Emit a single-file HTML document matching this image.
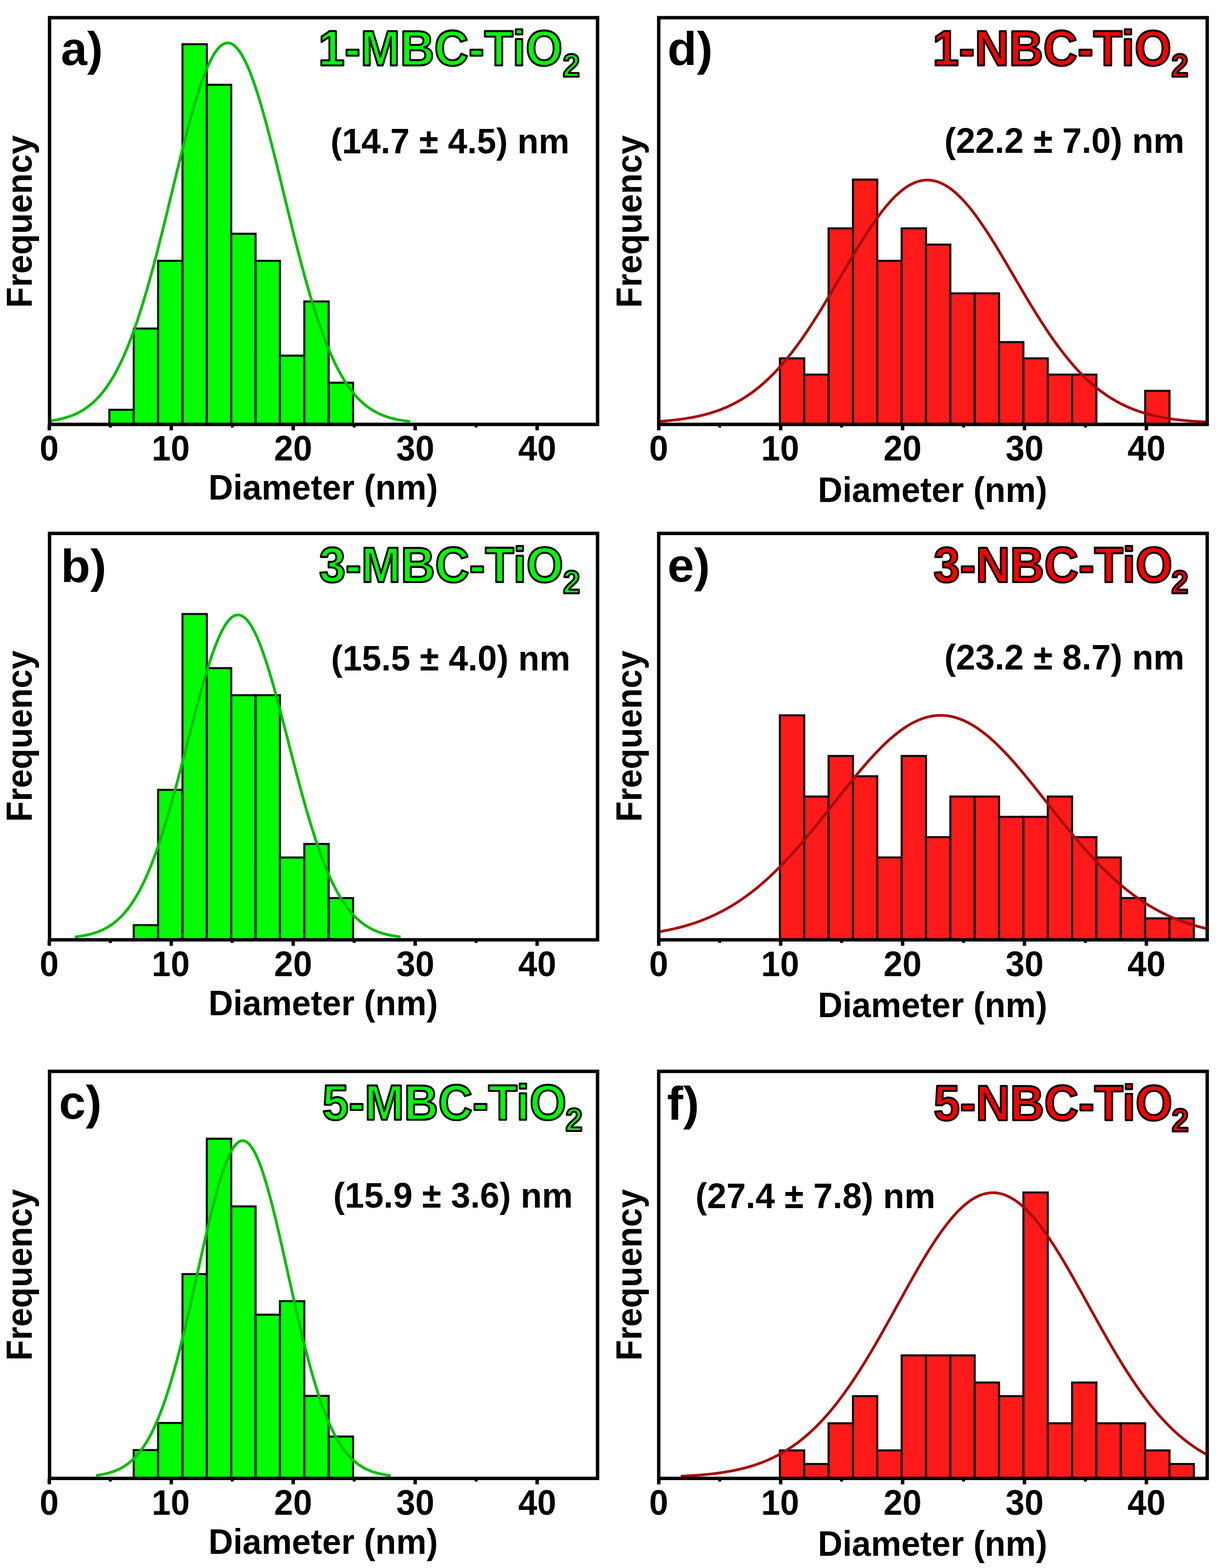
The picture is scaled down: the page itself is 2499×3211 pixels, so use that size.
<!DOCTYPE html>
<html><head><meta charset="utf-8"><title>Particle size distributions</title>
<style>html,body{margin:0;padding:0;background:#fff;}svg{display:block;}</style></head>
<body>
<svg width="2499" height="3211" viewBox="0 0 2499 3211"><rect width="2499" height="3211" fill="#fff"/><g><rect x="224.00" y="839.17" width="49.92" height="29.93" fill="#00FF00" stroke="#0a0a0a" stroke-width="4.2"/><rect x="273.92" y="672.79" width="49.92" height="196.31" fill="#00FF00" stroke="#0a0a0a" stroke-width="4.2"/><rect x="323.84" y="534.14" width="49.92" height="334.96" fill="#00FF00" stroke="#0a0a0a" stroke-width="4.2"/><rect x="373.76" y="90.46" width="49.92" height="778.64" fill="#00FF00" stroke="#0a0a0a" stroke-width="4.2"/><rect x="423.68" y="173.65" width="49.92" height="695.45" fill="#00FF00" stroke="#0a0a0a" stroke-width="4.2"/><rect x="473.60" y="478.68" width="49.92" height="390.42" fill="#00FF00" stroke="#0a0a0a" stroke-width="4.2"/><rect x="523.52" y="534.14" width="49.92" height="334.96" fill="#00FF00" stroke="#0a0a0a" stroke-width="4.2"/><rect x="573.44" y="728.25" width="49.92" height="140.85" fill="#00FF00" stroke="#0a0a0a" stroke-width="4.2"/><rect x="623.36" y="617.33" width="49.92" height="251.77" fill="#00FF00" stroke="#0a0a0a" stroke-width="4.2"/><rect x="673.28" y="783.71" width="49.92" height="85.39" fill="#00FF00" stroke="#0a0a0a" stroke-width="4.2"/><clipPath id="clipa"><rect x="101.5" y="36.2" width="1122.5" height="832.9"/></clipPath><polyline points="76.0,864.6 79.2,864.4 82.4,864.1 85.6,863.8 88.8,863.5 91.9,863.2 95.1,862.9 98.3,862.5 101.5,862.1 104.7,861.6 107.9,861.2 111.1,860.6 114.2,860.1 117.4,859.5 120.6,858.8 123.8,858.1 127.0,857.3 130.2,856.5 133.3,855.7 136.5,854.7 139.7,853.7 142.9,852.6 146.1,851.4 149.3,850.2 152.5,848.9 155.6,847.4 158.8,845.9 162.0,844.3 165.2,842.6 168.4,840.7 171.6,838.8 174.8,836.7 177.9,834.5 181.1,832.1 184.3,829.6 187.5,827.0 190.7,824.2 193.9,821.3 197.0,818.2 200.2,814.9 203.4,811.4 206.6,807.8 209.8,804.0 213.0,799.9 216.2,795.7 219.3,791.3 222.5,786.6 225.7,781.7 228.9,776.6 232.1,771.3 235.3,765.7 238.5,759.9 241.6,753.8 244.8,747.5 248.0,741.0 251.2,734.1 254.4,727.1 257.6,719.7 260.7,712.1 263.9,704.2 267.1,696.1 270.3,687.6 273.5,678.9 276.7,670.0 279.9,660.8 283.0,651.3 286.2,641.5 289.4,631.5 292.6,621.2 295.8,610.7 299.0,600.0 302.2,589.0 305.3,577.8 308.5,566.3 311.7,554.7 314.9,542.8 318.1,530.8 321.3,518.5 324.4,506.2 327.6,493.6 330.8,481.0 334.0,468.2 337.2,455.3 340.4,442.3 343.6,429.2 346.7,416.1 349.9,403.0 353.1,389.8 356.3,376.7 359.5,363.6 362.7,350.5 365.9,337.5 369.0,324.6 372.2,311.8 375.4,299.2 378.6,286.7 381.8,274.4 385.0,262.3 388.1,250.4 391.3,238.8 394.5,227.5 397.7,216.4 400.9,205.7 404.1,195.4 407.3,185.4 410.4,175.7 413.6,166.5 416.8,157.8 420.0,149.4 423.2,141.6 426.4,134.2 429.5,127.3 432.7,120.9 435.9,115.1 439.1,109.8 442.3,105.0 445.5,100.8 448.7,97.2 451.8,94.2 455.0,91.7 458.2,89.9 461.4,88.6 464.6,88.0 467.8,88.0 471.0,88.5 474.1,89.7 477.3,91.4 480.5,93.8 483.7,96.8 486.9,100.3 490.1,104.4 493.2,109.1 496.4,114.3 499.6,120.1 502.8,126.4 506.0,133.2 509.2,140.5 512.4,148.3 515.5,156.6 518.7,165.3 521.9,174.4 525.1,184.0 528.3,193.9 531.5,204.2 534.7,214.9 537.8,225.9 541.0,237.2 544.2,248.8 547.4,260.6 550.6,272.7 553.8,284.9 556.9,297.4 560.1,310.0 563.3,322.8 566.5,335.7 569.7,348.7 572.9,361.7 576.1,374.8 579.2,388.0 582.4,401.1 585.6,414.3 588.8,427.4 592.0,440.5 595.2,453.4 598.4,466.4 601.5,479.2 604.7,491.9 607.9,504.4 611.1,516.8 614.3,529.1 617.5,541.1 620.6,553.0 623.8,564.7 627.0,576.2 630.2,587.4 633.4,598.4 636.6,609.2 639.8,619.8 642.9,630.1 646.1,640.1 649.3,649.9 652.5,659.4 655.7,668.7 658.9,677.7 662.1,686.4 665.2,694.9 668.4,703.1 671.6,711.0 674.8,718.6 678.0,726.0 681.2,733.2 684.3,740.0 687.5,746.6 690.7,753.0 693.9,759.1 697.1,764.9 700.3,770.5 703.5,775.9 706.6,781.0 709.8,785.9 713.0,790.6 716.2,795.1 719.4,799.3 722.6,803.4 725.7,807.3 728.9,810.9 732.1,814.4 735.3,817.7 738.5,820.9 741.7,823.8 744.9,826.6 748.0,829.3 751.2,831.8 754.4,834.2 757.6,836.4 760.8,838.5 764.0,840.5 767.2,842.3 770.3,844.1 773.5,845.7 776.7,847.2 779.9,848.7 783.1,850.0 786.3,851.3 789.4,852.4 792.6,853.5 795.8,854.6 799.0,855.5 802.2,856.4 805.4,857.2 808.6,858.0 811.7,858.7 814.9,859.4 818.1,860.0 821.3,860.6 824.5,861.1 827.7,861.6 830.9,862.0 834.0,862.4 837.2,862.8 840.4,863.2" fill="none" stroke="#00BE00" stroke-width="5.6" stroke-linejoin="round" clip-path="url(#clipa)"/><rect x="97.50" y="869.10" width="7" height="12.2" fill="#000"/><rect x="222.90" y="869.10" width="6" height="6.4" fill="#000"/><rect x="347.30" y="869.10" width="7" height="12.2" fill="#000"/><rect x="472.70" y="869.10" width="6" height="6.4" fill="#000"/><rect x="597.10" y="869.10" width="7" height="12.2" fill="#000"/><rect x="722.50" y="869.10" width="6" height="6.4" fill="#000"/><rect x="846.90" y="869.10" width="7" height="12.2" fill="#000"/><rect x="972.30" y="869.10" width="6" height="6.4" fill="#000"/><rect x="1096.70" y="869.10" width="7" height="12.2" fill="#000"/><rect x="101.5" y="36.2" width="1122.5" height="832.9" fill="none" stroke="#000" stroke-width="7"/><text transform="translate(124.70,132.76) scale(0.9679,0.9638)" font-size="100" font-family="'Liberation Sans', Arial, sans-serif" font-weight="bold" fill="#000" >a)</text><text transform="translate(652.07,134.00) scale(0.9717,1.0190)" font-size="100" font-family="'Liberation Sans', Arial, sans-serif" font-weight="bold" fill="#00FF00" stroke="#000" stroke-width="4.02" stroke-linejoin="round">1-MBC-TiO</text><text transform="translate(1152.79,157.40) scale(0.6310,0.6690)" font-size="100" font-family="'Liberation Sans', Arial, sans-serif" font-weight="bold" fill="#00FF00" stroke="#000" stroke-width="6.15" stroke-linejoin="round">2</text><text transform="translate(676.94,313.60) scale(0.7112,0.7215)" font-size="100" font-family="'Liberation Sans', Arial, sans-serif" font-weight="bold">(14.7 ± 4.5) nm</text><text transform="translate(64.80,630.39) rotate(-90) scale(0.6988,0.7362)" font-size="100" font-family="'Liberation Sans', Arial, sans-serif" font-weight="bold">Frequency</text><text transform="translate(81.25,943.40) scale(0.7000,0.7143)" font-size="100" font-family="'Liberation Sans', Arial, sans-serif" font-weight="bold">0</text><text transform="translate(310.75,943.40) scale(0.7000,0.7143)" font-size="100" font-family="'Liberation Sans', Arial, sans-serif" font-weight="bold">10</text><text transform="translate(561.60,943.40) scale(0.7000,0.7143)" font-size="100" font-family="'Liberation Sans', Arial, sans-serif" font-weight="bold">20</text><text transform="translate(811.75,943.40) scale(0.7000,0.7143)" font-size="100" font-family="'Liberation Sans', Arial, sans-serif" font-weight="bold">30</text><text transform="translate(1061.55,943.40) scale(0.7000,0.7143)" font-size="100" font-family="'Liberation Sans', Arial, sans-serif" font-weight="bold">40</text><text transform="translate(426.91,1023.20) scale(0.6992,0.7166)" font-size="100" font-family="'Liberation Sans', Arial, sans-serif" font-weight="bold">Diameter (nm)</text></g>
<g><rect x="273.92" y="1894.50" width="49.92" height="30.10" fill="#00FF00" stroke="#0a0a0a" stroke-width="4.2"/><rect x="323.84" y="1617.50" width="49.92" height="307.10" fill="#00FF00" stroke="#0a0a0a" stroke-width="4.2"/><rect x="373.76" y="1257.40" width="49.92" height="667.20" fill="#00FF00" stroke="#0a0a0a" stroke-width="4.2"/><rect x="423.68" y="1368.20" width="49.92" height="556.40" fill="#00FF00" stroke="#0a0a0a" stroke-width="4.2"/><rect x="473.60" y="1423.60" width="49.92" height="501.00" fill="#00FF00" stroke="#0a0a0a" stroke-width="4.2"/><rect x="523.52" y="1423.60" width="49.92" height="501.00" fill="#00FF00" stroke="#0a0a0a" stroke-width="4.2"/><rect x="573.44" y="1756.00" width="49.92" height="168.60" fill="#00FF00" stroke="#0a0a0a" stroke-width="4.2"/><rect x="623.36" y="1728.30" width="49.92" height="196.30" fill="#00FF00" stroke="#0a0a0a" stroke-width="4.2"/><rect x="673.28" y="1839.10" width="49.92" height="85.50" fill="#00FF00" stroke="#0a0a0a" stroke-width="4.2"/><clipPath id="clipb"><rect x="101.5" y="1092.3" width="1122.5" height="832.3"/></clipPath><polyline points="153.5,1918.6 156.2,1918.3 159.0,1918.0 161.8,1917.6 164.6,1917.2 167.4,1916.8 170.1,1916.3 172.9,1915.8 175.7,1915.2 178.5,1914.6 181.2,1914.0 184.0,1913.3 186.8,1912.6 189.6,1911.8 192.4,1911.0 195.1,1910.1 197.9,1909.2 200.7,1908.1 203.5,1907.1 206.3,1905.9 209.0,1904.7 211.8,1903.4 214.6,1902.0 217.4,1900.5 220.2,1898.9 222.9,1897.2 225.7,1895.5 228.5,1893.6 231.3,1891.6 234.0,1889.5 236.8,1887.3 239.6,1885.0 242.4,1882.5 245.2,1879.9 247.9,1877.1 250.7,1874.3 253.5,1871.2 256.3,1868.1 259.1,1864.7 261.8,1861.2 264.6,1857.5 267.4,1853.7 270.2,1849.7 273.0,1845.5 275.7,1841.1 278.5,1836.5 281.3,1831.8 284.1,1826.8 286.9,1821.7 289.6,1816.3 292.4,1810.8 295.2,1805.0 298.0,1799.0 300.7,1792.8 303.5,1786.4 306.3,1779.8 309.1,1773.0 311.9,1766.0 314.6,1758.7 317.4,1751.3 320.2,1743.6 323.0,1735.7 325.8,1727.6 328.5,1719.3 331.3,1710.8 334.1,1702.1 336.9,1693.2 339.7,1684.1 342.4,1674.9 345.2,1665.4 348.0,1655.9 350.8,1646.1 353.5,1636.2 356.3,1626.1 359.1,1616.0 361.9,1605.7 364.7,1595.3 367.4,1584.8 370.2,1574.2 373.0,1563.5 375.8,1552.8 378.6,1542.0 381.3,1531.2 384.1,1520.4 386.9,1509.6 389.7,1498.8 392.5,1488.0 395.2,1477.3 398.0,1466.6 400.8,1456.1 403.6,1445.6 406.3,1435.2 409.1,1425.0 411.9,1414.9 414.7,1405.0 417.5,1395.3 420.2,1385.8 423.0,1376.5 425.8,1367.5 428.6,1358.7 431.4,1350.2 434.1,1342.0 436.9,1334.1 439.7,1326.5 442.5,1319.3 445.3,1312.4 448.0,1305.9 450.8,1299.7 453.6,1294.0 456.4,1288.6 459.2,1283.7 461.9,1279.2 464.7,1275.1 467.5,1271.5 470.3,1268.4 473.0,1265.7 475.8,1263.4 478.6,1261.7 481.4,1260.4 484.2,1259.5 486.9,1259.2 489.7,1259.4 492.5,1260.0 495.3,1261.1 498.1,1262.7 500.8,1264.7 503.6,1267.2 506.4,1270.2 509.2,1273.6 512.0,1277.5 514.7,1281.8 517.5,1286.6 520.3,1291.8 523.1,1297.4 525.8,1303.3 528.6,1309.7 531.4,1316.5 534.2,1323.6 537.0,1331.0 539.7,1338.8 542.5,1346.9 545.3,1355.3 548.1,1363.9 550.9,1372.9 553.6,1382.1 556.4,1391.5 559.2,1401.1 562.0,1410.9 564.8,1420.9 567.5,1431.1 570.3,1441.4 573.1,1451.8 575.9,1462.4 578.6,1473.0 581.4,1483.7 584.2,1494.4 587.0,1505.2 589.8,1516.0 592.5,1526.9 595.3,1537.7 598.1,1548.4 600.9,1559.2 603.7,1569.9 606.4,1580.5 609.2,1591.0 612.0,1601.5 614.8,1611.8 617.6,1622.1 620.3,1632.2 623.1,1642.1 625.9,1651.9 628.7,1661.6 631.5,1671.1 634.2,1680.4 637.0,1689.6 639.8,1698.5 642.6,1707.3 645.3,1715.9 648.1,1724.3 650.9,1732.5 653.7,1740.4 656.5,1748.2 659.2,1755.7 662.0,1763.1 664.8,1770.2 667.6,1777.1 670.4,1783.8 673.1,1790.3 675.9,1796.6 678.7,1802.6 681.5,1808.5 684.3,1814.1 687.0,1819.6 689.8,1824.8 692.6,1829.8 695.4,1834.7 698.1,1839.3 700.9,1843.8 703.7,1848.0 706.5,1852.1 709.3,1856.0 712.0,1859.8 714.8,1863.3 717.6,1866.7 720.4,1870.0 723.2,1873.1 725.9,1876.0 728.7,1878.8 731.5,1881.5 734.3,1884.0 737.1,1886.4 739.8,1888.6 742.6,1890.8 745.4,1892.8 748.2,1894.7 750.9,1896.5 753.7,1898.3 756.5,1899.9 759.3,1901.4 762.1,1902.8 764.8,1904.2 767.6,1905.4 770.4,1906.6 773.2,1907.7 776.0,1908.8 778.7,1909.7 781.5,1910.7 784.3,1911.5 787.1,1912.3 789.9,1913.1 792.6,1913.8 795.4,1914.4 798.2,1915.0 801.0,1915.6 803.7,1916.1 806.5,1916.6 809.3,1917.0 812.1,1917.4 814.9,1917.8 817.6,1918.2 820.4,1918.5" fill="none" stroke="#00BE00" stroke-width="5.6" stroke-linejoin="round" clip-path="url(#clipb)"/><rect x="97.50" y="1924.60" width="7" height="12.2" fill="#000"/><rect x="222.90" y="1924.60" width="6" height="6.4" fill="#000"/><rect x="347.30" y="1924.60" width="7" height="12.2" fill="#000"/><rect x="472.70" y="1924.60" width="6" height="6.4" fill="#000"/><rect x="597.10" y="1924.60" width="7" height="12.2" fill="#000"/><rect x="722.50" y="1924.60" width="6" height="6.4" fill="#000"/><rect x="846.90" y="1924.60" width="7" height="12.2" fill="#000"/><rect x="972.30" y="1924.60" width="6" height="6.4" fill="#000"/><rect x="1096.70" y="1924.60" width="7" height="12.2" fill="#000"/><rect x="101.5" y="1092.3" width="1122.5" height="832.3" fill="none" stroke="#000" stroke-width="7"/><text transform="translate(124.58,1191.57) scale(0.9890,0.9489)" font-size="100" font-family="'Liberation Sans', Arial, sans-serif" font-weight="bold" fill="#000" >b)</text><text transform="translate(653.66,1191.90) scale(0.9717,1.0190)" font-size="100" font-family="'Liberation Sans', Arial, sans-serif" font-weight="bold" fill="#00FF00" stroke="#000" stroke-width="4.02" stroke-linejoin="round">3-MBC-TiO</text><text transform="translate(1153.19,1215.30) scale(0.6310,0.6690)" font-size="100" font-family="'Liberation Sans', Arial, sans-serif" font-weight="bold" fill="#00FF00" stroke="#000" stroke-width="6.15" stroke-linejoin="round">2</text><text transform="translate(678.04,1372.90) scale(0.7121,0.7215)" font-size="100" font-family="'Liberation Sans', Arial, sans-serif" font-weight="bold">(15.5 ± 4.0) nm</text><text transform="translate(64.80,1683.26) rotate(-90) scale(0.6942,0.7362)" font-size="100" font-family="'Liberation Sans', Arial, sans-serif" font-weight="bold">Frequency</text><text transform="translate(81.25,1998.90) scale(0.7000,0.7143)" font-size="100" font-family="'Liberation Sans', Arial, sans-serif" font-weight="bold">0</text><text transform="translate(310.75,1998.90) scale(0.7000,0.7143)" font-size="100" font-family="'Liberation Sans', Arial, sans-serif" font-weight="bold">10</text><text transform="translate(561.60,1998.90) scale(0.7000,0.7143)" font-size="100" font-family="'Liberation Sans', Arial, sans-serif" font-weight="bold">20</text><text transform="translate(811.75,1998.90) scale(0.7000,0.7143)" font-size="100" font-family="'Liberation Sans', Arial, sans-serif" font-weight="bold">30</text><text transform="translate(1061.55,1998.90) scale(0.7000,0.7143)" font-size="100" font-family="'Liberation Sans', Arial, sans-serif" font-weight="bold">40</text><text transform="translate(426.91,2078.70) scale(0.6992,0.7166)" font-size="100" font-family="'Liberation Sans', Arial, sans-serif" font-weight="bold">Diameter (nm)</text></g>
<g><rect x="273.92" y="2969.46" width="49.92" height="58.04" fill="#00FF00" stroke="#0a0a0a" stroke-width="4.2"/><rect x="323.84" y="2914.02" width="49.92" height="113.48" fill="#00FF00" stroke="#0a0a0a" stroke-width="4.2"/><rect x="373.76" y="2609.10" width="49.92" height="418.40" fill="#00FF00" stroke="#0a0a0a" stroke-width="4.2"/><rect x="423.68" y="2331.90" width="49.92" height="695.60" fill="#00FF00" stroke="#0a0a0a" stroke-width="4.2"/><rect x="473.60" y="2470.50" width="49.92" height="557.00" fill="#00FF00" stroke="#0a0a0a" stroke-width="4.2"/><rect x="523.52" y="2692.26" width="49.92" height="335.24" fill="#00FF00" stroke="#0a0a0a" stroke-width="4.2"/><rect x="573.44" y="2664.54" width="49.92" height="362.96" fill="#00FF00" stroke="#0a0a0a" stroke-width="4.2"/><rect x="623.36" y="2858.58" width="49.92" height="168.92" fill="#00FF00" stroke="#0a0a0a" stroke-width="4.2"/><rect x="673.28" y="2941.74" width="49.92" height="85.76" fill="#00FF00" stroke="#0a0a0a" stroke-width="4.2"/><clipPath id="clipc"><rect x="101.5" y="2194.0" width="1122.5" height="833.5"/></clipPath><polyline points="196.7,3021.3 199.2,3021.0 201.7,3020.6 204.2,3020.3 206.7,3019.9 209.3,3019.4 211.8,3018.9 214.3,3018.4 216.8,3017.8 219.3,3017.2 221.8,3016.6 224.3,3015.9 226.9,3015.2 229.4,3014.4 231.9,3013.5 234.4,3012.6 236.9,3011.6 239.4,3010.5 242.0,3009.4 244.5,3008.2 247.0,3007.0 249.5,3005.6 252.0,3004.1 254.5,3002.6 257.1,3001.0 259.6,2999.2 262.1,2997.4 264.6,2995.4 267.1,2993.4 269.6,2991.2 272.1,2988.9 274.7,2986.4 277.2,2983.8 279.7,2981.1 282.2,2978.3 284.7,2975.2 287.2,2972.1 289.8,2968.7 292.3,2965.2 294.8,2961.6 297.3,2957.7 299.8,2953.7 302.3,2949.5 304.8,2945.1 307.4,2940.5 309.9,2935.7 312.4,2930.7 314.9,2925.4 317.4,2920.0 319.9,2914.4 322.5,2908.5 325.0,2902.5 327.5,2896.2 330.0,2889.6 332.5,2882.9 335.0,2875.9 337.6,2868.7 340.1,2861.3 342.6,2853.7 345.1,2845.8 347.6,2837.7 350.1,2829.4 352.6,2820.8 355.2,2812.1 357.7,2803.1 360.2,2793.9 362.7,2784.5 365.2,2775.0 367.7,2765.2 370.3,2755.3 372.8,2745.1 375.3,2734.9 377.8,2724.4 380.3,2713.8 382.8,2703.1 385.4,2692.3 387.9,2681.3 390.4,2670.2 392.9,2659.1 395.4,2647.9 397.9,2636.6 400.4,2625.3 403.0,2613.9 405.5,2602.6 408.0,2591.2 410.5,2579.9 413.0,2568.6 415.5,2557.4 418.1,2546.3 420.6,2535.2 423.1,2524.3 425.6,2513.5 428.1,2502.9 430.6,2492.4 433.1,2482.1 435.7,2472.0 438.2,2462.2 440.7,2452.6 443.2,2443.2 445.7,2434.2 448.2,2425.4 450.8,2417.0 453.3,2408.9 455.8,2401.2 458.3,2393.8 460.8,2386.8 463.3,2380.2 465.9,2374.0 468.4,2368.3 470.9,2363.0 473.4,2358.1 475.9,2353.7 478.4,2349.8 480.9,2346.3 483.5,2343.3 486.0,2340.9 488.5,2338.9 491.0,2337.4 493.5,2336.4 496.0,2335.9 498.6,2336.0 501.1,2336.5 503.6,2337.6 506.1,2339.1 508.6,2341.2 511.1,2343.8 513.7,2346.8 516.2,2350.4 518.7,2354.4 521.2,2358.8 523.7,2363.8 526.2,2369.2 528.7,2375.0 531.3,2381.2 533.8,2387.9 536.3,2394.9 538.8,2402.4 541.3,2410.2 543.8,2418.3 546.4,2426.8 548.9,2435.6 551.4,2444.7 553.9,2454.1 556.4,2463.7 558.9,2473.6 561.4,2483.7 564.0,2494.0 566.5,2504.5 569.0,2515.2 571.5,2526.0 574.0,2537.0 576.5,2548.0 579.1,2559.2 581.6,2570.4 584.1,2581.7 586.6,2593.0 589.1,2604.4 591.6,2615.7 594.2,2627.1 596.7,2638.4 599.2,2649.7 601.7,2660.9 604.2,2672.0 606.7,2683.0 609.2,2694.0 611.8,2704.8 614.3,2715.5 616.8,2726.1 619.3,2736.5 621.8,2746.8 624.3,2756.9 626.9,2766.8 629.4,2776.5 631.9,2786.0 634.4,2795.4 636.9,2804.5 639.4,2813.5 642.0,2822.2 644.5,2830.7 647.0,2839.0 649.5,2847.0 652.0,2854.9 654.5,2862.5 657.0,2869.9 659.6,2877.0 662.1,2884.0 664.6,2890.7 667.1,2897.2 669.6,2903.4 672.1,2909.5 674.7,2915.3 677.2,2920.9 679.7,2926.3 682.2,2931.5 684.7,2936.4 687.2,2941.2 689.7,2945.8 692.3,2950.1 694.8,2954.3 697.3,2958.3 699.8,2962.2 702.3,2965.8 704.8,2969.3 707.4,2972.6 709.9,2975.7 712.4,2978.7 714.9,2981.6 717.4,2984.3 719.9,2986.8 722.5,2989.2 725.0,2991.5 727.5,2993.7 730.0,2995.8 732.5,2997.7 735.0,2999.5 737.5,3001.2 740.1,3002.9 742.6,3004.4 745.1,3005.8 747.6,3007.2 750.1,3008.4 752.6,3009.6 755.2,3010.7 757.7,3011.8 760.2,3012.7 762.7,3013.6 765.2,3014.5 767.7,3015.3 770.3,3016.0 772.8,3016.7 775.3,3017.3 777.8,3017.9 780.3,3018.5 782.8,3019.0 785.3,3019.5 787.9,3019.9 790.4,3020.3 792.9,3020.7 795.4,3021.1 797.9,3021.4 800.4,3021.7" fill="none" stroke="#00BE00" stroke-width="5.6" stroke-linejoin="round" clip-path="url(#clipc)"/><rect x="97.50" y="3027.50" width="7" height="12.2" fill="#000"/><rect x="222.90" y="3027.50" width="6" height="6.4" fill="#000"/><rect x="347.30" y="3027.50" width="7" height="12.2" fill="#000"/><rect x="472.70" y="3027.50" width="6" height="6.4" fill="#000"/><rect x="597.10" y="3027.50" width="7" height="12.2" fill="#000"/><rect x="722.50" y="3027.50" width="6" height="6.4" fill="#000"/><rect x="846.90" y="3027.50" width="7" height="12.2" fill="#000"/><rect x="972.30" y="3027.50" width="6" height="6.4" fill="#000"/><rect x="1096.70" y="3027.50" width="7" height="12.2" fill="#000"/><rect x="101.5" y="2194.0" width="1122.5" height="833.5" fill="none" stroke="#000" stroke-width="7"/><text transform="translate(120.76,2291.09) scale(0.9850,0.9574)" font-size="100" font-family="'Liberation Sans', Arial, sans-serif" font-weight="bold" fill="#000" >c)</text><text transform="translate(660.28,2292.90) scale(0.9717,1.0190)" font-size="100" font-family="'Liberation Sans', Arial, sans-serif" font-weight="bold" fill="#00FF00" stroke="#000" stroke-width="4.02" stroke-linejoin="round">5-MBC-TiO</text><text transform="translate(1158.19,2316.30) scale(0.6310,0.6690)" font-size="100" font-family="'Liberation Sans', Arial, sans-serif" font-weight="bold" fill="#00FF00" stroke="#000" stroke-width="6.15" stroke-linejoin="round">2</text><text transform="translate(682.54,2472.90) scale(0.7130,0.7215)" font-size="100" font-family="'Liberation Sans', Arial, sans-serif" font-weight="bold">(15.9 ± 3.6) nm</text><text transform="translate(64.80,2786.56) rotate(-90) scale(0.6950,0.7362)" font-size="100" font-family="'Liberation Sans', Arial, sans-serif" font-weight="bold">Frequency</text><text transform="translate(81.25,3101.80) scale(0.7000,0.7143)" font-size="100" font-family="'Liberation Sans', Arial, sans-serif" font-weight="bold">0</text><text transform="translate(310.75,3101.80) scale(0.7000,0.7143)" font-size="100" font-family="'Liberation Sans', Arial, sans-serif" font-weight="bold">10</text><text transform="translate(561.60,3101.80) scale(0.7000,0.7143)" font-size="100" font-family="'Liberation Sans', Arial, sans-serif" font-weight="bold">20</text><text transform="translate(811.75,3101.80) scale(0.7000,0.7143)" font-size="100" font-family="'Liberation Sans', Arial, sans-serif" font-weight="bold">30</text><text transform="translate(1061.55,3101.80) scale(0.7000,0.7143)" font-size="100" font-family="'Liberation Sans', Arial, sans-serif" font-weight="bold">40</text><text transform="translate(426.91,3181.60) scale(0.6992,0.7166)" font-size="100" font-family="'Liberation Sans', Arial, sans-serif" font-weight="bold">Diameter (nm)</text></g>
<g><rect x="1597.50" y="733.84" width="49.88" height="135.26" fill="#FF1A1A" stroke="#0a0a0a" stroke-width="4.2"/><rect x="1647.38" y="767.12" width="49.88" height="101.98" fill="#FF1A1A" stroke="#0a0a0a" stroke-width="4.2"/><rect x="1697.26" y="467.60" width="49.88" height="401.50" fill="#FF1A1A" stroke="#0a0a0a" stroke-width="4.2"/><rect x="1747.14" y="367.76" width="49.88" height="501.34" fill="#FF1A1A" stroke="#0a0a0a" stroke-width="4.2"/><rect x="1797.02" y="534.16" width="49.88" height="334.94" fill="#FF1A1A" stroke="#0a0a0a" stroke-width="4.2"/><rect x="1846.90" y="467.60" width="49.88" height="401.50" fill="#FF1A1A" stroke="#0a0a0a" stroke-width="4.2"/><rect x="1896.78" y="500.88" width="49.88" height="368.22" fill="#FF1A1A" stroke="#0a0a0a" stroke-width="4.2"/><rect x="1946.66" y="600.72" width="49.88" height="268.38" fill="#FF1A1A" stroke="#0a0a0a" stroke-width="4.2"/><rect x="1996.54" y="600.72" width="49.88" height="268.38" fill="#FF1A1A" stroke="#0a0a0a" stroke-width="4.2"/><rect x="2046.42" y="700.56" width="49.88" height="168.54" fill="#FF1A1A" stroke="#0a0a0a" stroke-width="4.2"/><rect x="2096.30" y="733.84" width="49.88" height="135.26" fill="#FF1A1A" stroke="#0a0a0a" stroke-width="4.2"/><rect x="2146.18" y="767.12" width="49.88" height="101.98" fill="#FF1A1A" stroke="#0a0a0a" stroke-width="4.2"/><rect x="2196.06" y="767.12" width="49.88" height="101.98" fill="#FF1A1A" stroke="#0a0a0a" stroke-width="4.2"/><rect x="2345.70" y="800.40" width="49.88" height="68.70" fill="#FF1A1A" stroke="#0a0a0a" stroke-width="4.2"/><clipPath id="clipd"><rect x="1349.3" y="36.2" width="1123.5000000000002" height="832.9"/></clipPath><polyline points="1324.4,864.5 1329.3,864.2 1334.2,864.0 1339.1,863.7 1344.0,863.4 1348.9,863.1 1353.8,862.7 1358.7,862.4 1363.5,862.0 1368.4,861.5 1373.3,861.0 1378.2,860.5 1383.1,860.0 1388.0,859.4 1392.9,858.8 1397.8,858.1 1402.7,857.4 1407.6,856.6 1412.4,855.8 1417.3,854.9 1422.2,854.0 1427.1,853.0 1432.0,851.9 1436.9,850.8 1441.8,849.6 1446.7,848.3 1451.6,846.9 1456.5,845.5 1461.3,843.9 1466.2,842.3 1471.1,840.6 1476.0,838.8 1480.9,836.8 1485.8,834.8 1490.7,832.7 1495.6,830.4 1500.5,828.1 1505.4,825.6 1510.2,822.9 1515.1,820.2 1520.0,817.3 1524.9,814.3 1529.8,811.1 1534.7,807.8 1539.6,804.4 1544.5,800.8 1549.4,797.0 1554.3,793.1 1559.1,789.0 1564.0,784.8 1568.9,780.4 1573.8,775.8 1578.7,771.1 1583.6,766.2 1588.5,761.1 1593.4,755.9 1598.3,750.5 1603.2,744.9 1608.0,739.1 1612.9,733.2 1617.8,727.1 1622.7,720.9 1627.6,714.5 1632.5,707.9 1637.4,701.2 1642.3,694.3 1647.2,687.2 1652.1,680.1 1656.9,672.8 1661.8,665.3 1666.7,657.8 1671.6,650.1 1676.5,642.3 1681.4,634.4 1686.3,626.4 1691.2,618.3 1696.1,610.2 1701.0,602.0 1705.8,593.7 1710.7,585.4 1715.6,577.0 1720.5,568.7 1725.4,560.3 1730.3,552.0 1735.2,543.6 1740.1,535.3 1745.0,527.1 1749.9,518.9 1754.7,510.8 1759.6,502.7 1764.5,494.8 1769.4,487.0 1774.3,479.3 1779.2,471.8 1784.1,464.5 1789.0,457.3 1793.9,450.3 1798.8,443.5 1803.6,436.9 1808.5,430.6 1813.4,424.5 1818.3,418.7 1823.2,413.1 1828.1,407.8 1833.0,402.8 1837.9,398.2 1842.8,393.8 1847.7,389.7 1852.5,386.0 1857.4,382.7 1862.3,379.7 1867.2,377.0 1872.1,374.7 1877.0,372.8 1881.9,371.2 1886.8,370.1 1891.7,369.2 1896.6,368.8 1901.4,368.8 1906.3,369.1 1911.2,369.9 1916.1,371.0 1921.0,372.4 1925.9,374.3 1930.8,376.5 1935.7,379.1 1940.6,382.0 1945.5,385.3 1950.3,389.0 1955.2,392.9 1960.1,397.2 1965.0,401.9 1969.9,406.8 1974.8,412.0 1979.7,417.5 1984.6,423.3 1989.5,429.3 1994.4,435.6 1999.2,442.1 2004.1,448.9 2009.0,455.8 2013.9,463.0 2018.8,470.3 2023.7,477.8 2028.6,485.4 2033.5,493.2 2038.4,501.1 2043.3,509.1 2048.1,517.2 2053.0,525.4 2057.9,533.6 2062.8,541.9 2067.7,550.3 2072.6,558.6 2077.5,567.0 2082.4,575.3 2087.3,583.7 2092.2,592.0 2097.0,600.3 2101.9,608.5 2106.8,616.7 2111.7,624.7 2116.6,632.8 2121.5,640.7 2126.4,648.5 2131.3,656.2 2136.2,663.8 2141.1,671.3 2145.9,678.6 2150.8,685.8 2155.7,692.9 2160.6,699.8 2165.5,706.5 2170.4,713.1 2175.3,719.6 2180.2,725.9 2185.1,732.0 2190.0,737.9 2194.8,743.7 2199.7,749.3 2204.6,754.8 2209.5,760.1 2214.4,765.2 2219.3,770.1 2224.2,774.9 2229.1,779.5 2234.0,783.9 2238.9,788.2 2243.7,792.3 2248.6,796.2 2253.5,800.0 2258.4,803.6 2263.3,807.1 2268.2,810.5 2273.1,813.7 2278.0,816.7 2282.9,819.6 2287.8,822.4 2292.6,825.0 2297.5,827.6 2302.4,829.9 2307.3,832.2 2312.2,834.4 2317.1,836.4 2322.0,838.4 2326.9,840.2 2331.8,842.0 2336.7,843.6 2341.5,845.2 2346.4,846.6 2351.3,848.0 2356.2,849.3 2361.1,850.5 2366.0,851.7 2370.9,852.8 2375.8,853.8 2380.7,854.7 2385.6,855.6 2390.4,856.5 2395.3,857.2 2400.2,858.0 2405.1,858.7 2410.0,859.3 2414.9,859.9 2419.8,860.4 2424.7,860.9 2429.6,861.4 2434.5,861.9 2439.3,862.3 2444.2,862.7 2449.1,863.0 2454.0,863.3 2458.9,863.6 2463.8,863.9 2468.7,864.2 2473.6,864.4 2478.5,864.6 2483.4,864.8 2488.2,865.0 2493.1,865.2 2498.0,865.4" fill="none" stroke="#A80D0D" stroke-width="5.6" stroke-linejoin="round" clip-path="url(#clipd)"/><rect x="1345.90" y="869.10" width="7" height="12.2" fill="#000"/><rect x="1471.25" y="869.10" width="6" height="6.4" fill="#000"/><rect x="1595.60" y="869.10" width="7" height="12.2" fill="#000"/><rect x="1720.95" y="869.10" width="6" height="6.4" fill="#000"/><rect x="1845.30" y="869.10" width="7" height="12.2" fill="#000"/><rect x="1970.65" y="869.10" width="6" height="6.4" fill="#000"/><rect x="2095.00" y="869.10" width="7" height="12.2" fill="#000"/><rect x="2220.35" y="869.10" width="6" height="6.4" fill="#000"/><rect x="2344.70" y="869.10" width="7" height="12.2" fill="#000"/><rect x="1349.3" y="36.2" width="1123.5000000000002" height="832.9" fill="none" stroke="#000" stroke-width="7"/><text transform="translate(1367.27,132.68) scale(0.9824,0.9628)" font-size="100" font-family="'Liberation Sans', Arial, sans-serif" font-weight="bold" fill="#000" >d)</text><text transform="translate(1910.27,134.00) scale(0.9717,1.0190)" font-size="100" font-family="'Liberation Sans', Arial, sans-serif" font-weight="bold" fill="#FF0000" stroke="#000" stroke-width="4.02" stroke-linejoin="round">1-NBC-TiO</text><text transform="translate(2399.19,157.40) scale(0.6310,0.6690)" font-size="100" font-family="'Liberation Sans', Arial, sans-serif" font-weight="bold" fill="#FF0000" stroke="#000" stroke-width="6.15" stroke-linejoin="round">2</text><text transform="translate(1934.23,312.90) scale(0.7146,0.7215)" font-size="100" font-family="'Liberation Sans', Arial, sans-serif" font-weight="bold">(22.2 ± 7.0) nm</text><text transform="translate(1314.30,630.39) rotate(-90) scale(0.6988,0.7362)" font-size="100" font-family="'Liberation Sans', Arial, sans-serif" font-weight="bold">Frequency</text><text transform="translate(1329.65,943.40) scale(0.7000,0.7143)" font-size="100" font-family="'Liberation Sans', Arial, sans-serif" font-weight="bold">0</text><text transform="translate(1559.05,943.40) scale(0.7000,0.7143)" font-size="100" font-family="'Liberation Sans', Arial, sans-serif" font-weight="bold">10</text><text transform="translate(1809.80,943.40) scale(0.7000,0.7143)" font-size="100" font-family="'Liberation Sans', Arial, sans-serif" font-weight="bold">20</text><text transform="translate(2059.85,943.40) scale(0.7000,0.7143)" font-size="100" font-family="'Liberation Sans', Arial, sans-serif" font-weight="bold">30</text><text transform="translate(2309.55,943.40) scale(0.7000,0.7143)" font-size="100" font-family="'Liberation Sans', Arial, sans-serif" font-weight="bold">40</text><text transform="translate(1675.21,1027.70) scale(0.6992,0.7166)" font-size="100" font-family="'Liberation Sans', Arial, sans-serif" font-weight="bold">Diameter (nm)</text></g>
<g><rect x="1597.50" y="1464.90" width="49.88" height="459.70" fill="#FF1A1A" stroke="#0a0a0a" stroke-width="4.2"/><rect x="1647.38" y="1631.18" width="49.88" height="293.42" fill="#FF1A1A" stroke="#0a0a0a" stroke-width="4.2"/><rect x="1697.26" y="1548.04" width="49.88" height="376.56" fill="#FF1A1A" stroke="#0a0a0a" stroke-width="4.2"/><rect x="1747.14" y="1589.61" width="49.88" height="334.99" fill="#FF1A1A" stroke="#0a0a0a" stroke-width="4.2"/><rect x="1797.02" y="1755.89" width="49.88" height="168.71" fill="#FF1A1A" stroke="#0a0a0a" stroke-width="4.2"/><rect x="1846.90" y="1548.04" width="49.88" height="376.56" fill="#FF1A1A" stroke="#0a0a0a" stroke-width="4.2"/><rect x="1896.78" y="1714.32" width="49.88" height="210.28" fill="#FF1A1A" stroke="#0a0a0a" stroke-width="4.2"/><rect x="1946.66" y="1631.18" width="49.88" height="293.42" fill="#FF1A1A" stroke="#0a0a0a" stroke-width="4.2"/><rect x="1996.54" y="1631.18" width="49.88" height="293.42" fill="#FF1A1A" stroke="#0a0a0a" stroke-width="4.2"/><rect x="2046.42" y="1672.75" width="49.88" height="251.85" fill="#FF1A1A" stroke="#0a0a0a" stroke-width="4.2"/><rect x="2096.30" y="1672.75" width="49.88" height="251.85" fill="#FF1A1A" stroke="#0a0a0a" stroke-width="4.2"/><rect x="2146.18" y="1631.18" width="49.88" height="293.42" fill="#FF1A1A" stroke="#0a0a0a" stroke-width="4.2"/><rect x="2196.06" y="1714.32" width="49.88" height="210.28" fill="#FF1A1A" stroke="#0a0a0a" stroke-width="4.2"/><rect x="2245.94" y="1755.89" width="49.88" height="168.71" fill="#FF1A1A" stroke="#0a0a0a" stroke-width="4.2"/><rect x="2295.82" y="1839.03" width="49.88" height="85.57" fill="#FF1A1A" stroke="#0a0a0a" stroke-width="4.2"/><rect x="2345.70" y="1880.60" width="49.88" height="44.00" fill="#FF1A1A" stroke="#0a0a0a" stroke-width="4.2"/><rect x="2395.58" y="1880.60" width="49.88" height="44.00" fill="#FF1A1A" stroke="#0a0a0a" stroke-width="4.2"/><clipPath id="clipe"><rect x="1349.3" y="1092.3" width="1123.5000000000002" height="832.3"/></clipPath><polyline points="1324.4,1911.9 1329.3,1911.3 1334.2,1910.6 1339.1,1909.9 1344.0,1909.1 1348.9,1908.3 1353.8,1907.4 1358.7,1906.6 1363.5,1905.6 1368.4,1904.7 1373.3,1903.6 1378.2,1902.6 1383.1,1901.4 1388.0,1900.2 1392.9,1899.0 1397.8,1897.7 1402.7,1896.4 1407.6,1894.9 1412.4,1893.5 1417.3,1891.9 1422.2,1890.3 1427.1,1888.6 1432.0,1886.9 1436.9,1885.1 1441.8,1883.2 1446.7,1881.2 1451.6,1879.1 1456.5,1877.0 1461.3,1874.8 1466.2,1872.5 1471.1,1870.1 1476.0,1867.6 1480.9,1865.1 1485.8,1862.4 1490.7,1859.7 1495.6,1856.8 1500.5,1853.9 1505.4,1850.9 1510.2,1847.8 1515.1,1844.5 1520.0,1841.2 1524.9,1837.8 1529.8,1834.3 1534.7,1830.7 1539.6,1826.9 1544.5,1823.1 1549.4,1819.2 1554.3,1815.2 1559.1,1811.0 1564.0,1806.8 1568.9,1802.5 1573.8,1798.0 1578.7,1793.5 1583.6,1788.9 1588.5,1784.1 1593.4,1779.3 1598.3,1774.4 1603.2,1769.4 1608.0,1764.3 1612.9,1759.1 1617.8,1753.8 1622.7,1748.4 1627.6,1743.0 1632.5,1737.4 1637.4,1731.8 1642.3,1726.2 1647.2,1720.4 1652.1,1714.6 1656.9,1708.8 1661.8,1702.8 1666.7,1696.9 1671.6,1690.9 1676.5,1684.8 1681.4,1678.7 1686.3,1672.6 1691.2,1666.4 1696.1,1660.2 1701.0,1654.0 1705.8,1647.8 1710.7,1641.6 1715.6,1635.4 1720.5,1629.3 1725.4,1623.1 1730.3,1616.9 1735.2,1610.8 1740.1,1604.7 1745.0,1598.7 1749.9,1592.7 1754.7,1586.8 1759.6,1580.9 1764.5,1575.1 1769.4,1569.4 1774.3,1563.7 1779.2,1558.2 1784.1,1552.7 1789.0,1547.4 1793.9,1542.2 1798.8,1537.0 1803.6,1532.1 1808.5,1527.2 1813.4,1522.5 1818.3,1517.9 1823.2,1513.5 1828.1,1509.3 1833.0,1505.2 1837.9,1501.3 1842.8,1497.5 1847.7,1494.0 1852.5,1490.6 1857.4,1487.4 1862.3,1484.4 1867.2,1481.6 1872.1,1479.1 1877.0,1476.7 1881.9,1474.5 1886.8,1472.6 1891.7,1470.8 1896.6,1469.3 1901.4,1468.0 1906.3,1467.0 1911.2,1466.1 1916.1,1465.5 1921.0,1465.1 1925.9,1465.0 1930.8,1465.0 1935.7,1465.3 1940.6,1465.9 1945.5,1466.6 1950.3,1467.6 1955.2,1468.8 1960.1,1470.3 1965.0,1471.9 1969.9,1473.8 1974.8,1475.9 1979.7,1478.2 1984.6,1480.7 1989.5,1483.4 1994.4,1486.3 1999.2,1489.4 2004.1,1492.7 2009.0,1496.2 2013.9,1499.9 2018.8,1503.7 2023.7,1507.7 2028.6,1511.9 2033.5,1516.3 2038.4,1520.8 2043.3,1525.5 2048.1,1530.3 2053.0,1535.2 2057.9,1540.2 2062.8,1545.4 2067.7,1550.7 2072.6,1556.1 2077.5,1561.7 2082.4,1567.3 2087.3,1572.9 2092.2,1578.7 2097.0,1584.6 2101.9,1590.5 2106.8,1596.5 2111.7,1602.5 2116.6,1608.6 2121.5,1614.7 2126.4,1620.8 2131.3,1627.0 2136.2,1633.2 2141.1,1639.4 2145.9,1645.6 2150.8,1651.8 2155.7,1657.9 2160.6,1664.1 2165.5,1670.3 2170.4,1676.4 2175.3,1682.5 2180.2,1688.6 2185.1,1694.7 2190.0,1700.6 2194.8,1706.6 2199.7,1712.5 2204.6,1718.3 2209.5,1724.1 2214.4,1729.8 2219.3,1735.4 2224.2,1740.9 2229.1,1746.4 2234.0,1751.8 2238.9,1757.1 2243.7,1762.3 2248.6,1767.5 2253.5,1772.5 2258.4,1777.5 2263.3,1782.4 2268.2,1787.1 2273.1,1791.8 2278.0,1796.4 2282.9,1800.8 2287.8,1805.2 2292.6,1809.5 2297.5,1813.6 2302.4,1817.7 2307.3,1821.7 2312.2,1825.5 2317.1,1829.3 2322.0,1833.0 2326.9,1836.5 2331.8,1840.0 2336.7,1843.3 2341.5,1846.6 2346.4,1849.7 2351.3,1852.8 2356.2,1855.8 2361.1,1858.6 2366.0,1861.4 2370.9,1864.1 2375.8,1866.7 2380.7,1869.2 2385.6,1871.6 2390.4,1873.9 2395.3,1876.2 2400.2,1878.4 2405.1,1880.4 2410.0,1882.4 2414.9,1884.4 2419.8,1886.2 2424.7,1888.0 2429.6,1889.7 2434.5,1891.3 2439.3,1892.9 2444.2,1894.4 2449.1,1895.8 2454.0,1897.2 2458.9,1898.5 2463.8,1899.8 2468.7,1901.0 2473.6,1902.1 2478.5,1903.2 2483.4,1904.3 2488.2,1905.3 2493.1,1906.2 2498.0,1907.1" fill="none" stroke="#A80D0D" stroke-width="5.6" stroke-linejoin="round" clip-path="url(#clipe)"/><rect x="1345.90" y="1924.60" width="7" height="12.2" fill="#000"/><rect x="1471.25" y="1924.60" width="6" height="6.4" fill="#000"/><rect x="1595.60" y="1924.60" width="7" height="12.2" fill="#000"/><rect x="1720.95" y="1924.60" width="6" height="6.4" fill="#000"/><rect x="1845.30" y="1924.60" width="7" height="12.2" fill="#000"/><rect x="1970.65" y="1924.60" width="6" height="6.4" fill="#000"/><rect x="2095.00" y="1924.60" width="7" height="12.2" fill="#000"/><rect x="2220.35" y="1924.60" width="6" height="6.4" fill="#000"/><rect x="2344.70" y="1924.60" width="7" height="12.2" fill="#000"/><rect x="1349.3" y="1092.3" width="1123.5000000000002" height="832.3" fill="none" stroke="#000" stroke-width="7"/><text transform="translate(1367.29,1191.09) scale(0.9775,0.9574)" font-size="100" font-family="'Liberation Sans', Arial, sans-serif" font-weight="bold" fill="#000" >e)</text><text transform="translate(1912.26,1192.00) scale(0.9717,1.0190)" font-size="100" font-family="'Liberation Sans', Arial, sans-serif" font-weight="bold" fill="#FF0000" stroke="#000" stroke-width="4.02" stroke-linejoin="round">3-NBC-TiO</text><text transform="translate(2399.19,1215.40) scale(0.6310,0.6690)" font-size="100" font-family="'Liberation Sans', Arial, sans-serif" font-weight="bold" fill="#FF0000" stroke="#000" stroke-width="6.15" stroke-linejoin="round">2</text><text transform="translate(1934.23,1371.20) scale(0.7146,0.7215)" font-size="100" font-family="'Liberation Sans', Arial, sans-serif" font-weight="bold">(23.2 ± 8.7) nm</text><text transform="translate(1314.30,1683.26) rotate(-90) scale(0.6942,0.7362)" font-size="100" font-family="'Liberation Sans', Arial, sans-serif" font-weight="bold">Frequency</text><text transform="translate(1329.65,1998.90) scale(0.7000,0.7143)" font-size="100" font-family="'Liberation Sans', Arial, sans-serif" font-weight="bold">0</text><text transform="translate(1559.05,1998.90) scale(0.7000,0.7143)" font-size="100" font-family="'Liberation Sans', Arial, sans-serif" font-weight="bold">10</text><text transform="translate(1809.80,1998.90) scale(0.7000,0.7143)" font-size="100" font-family="'Liberation Sans', Arial, sans-serif" font-weight="bold">20</text><text transform="translate(2059.85,1998.90) scale(0.7000,0.7143)" font-size="100" font-family="'Liberation Sans', Arial, sans-serif" font-weight="bold">30</text><text transform="translate(2309.55,1998.90) scale(0.7000,0.7143)" font-size="100" font-family="'Liberation Sans', Arial, sans-serif" font-weight="bold">40</text><text transform="translate(1675.21,2083.20) scale(0.6992,0.7166)" font-size="100" font-family="'Liberation Sans', Arial, sans-serif" font-weight="bold">Diameter (nm)</text></g>
<g><rect x="1597.50" y="2970.20" width="49.88" height="57.30" fill="#FF1A1A" stroke="#0a0a0a" stroke-width="4.2"/><rect x="1647.38" y="2998.00" width="49.88" height="29.50" fill="#FF1A1A" stroke="#0a0a0a" stroke-width="4.2"/><rect x="1697.26" y="2914.60" width="49.88" height="112.90" fill="#FF1A1A" stroke="#0a0a0a" stroke-width="4.2"/><rect x="1747.14" y="2859.00" width="49.88" height="168.50" fill="#FF1A1A" stroke="#0a0a0a" stroke-width="4.2"/><rect x="1797.02" y="2970.20" width="49.88" height="57.30" fill="#FF1A1A" stroke="#0a0a0a" stroke-width="4.2"/><rect x="1846.90" y="2775.60" width="49.88" height="251.90" fill="#FF1A1A" stroke="#0a0a0a" stroke-width="4.2"/><rect x="1896.78" y="2775.60" width="49.88" height="251.90" fill="#FF1A1A" stroke="#0a0a0a" stroke-width="4.2"/><rect x="1946.66" y="2775.60" width="49.88" height="251.90" fill="#FF1A1A" stroke="#0a0a0a" stroke-width="4.2"/><rect x="1996.54" y="2831.20" width="49.88" height="196.30" fill="#FF1A1A" stroke="#0a0a0a" stroke-width="4.2"/><rect x="2046.42" y="2859.00" width="49.88" height="168.50" fill="#FF1A1A" stroke="#0a0a0a" stroke-width="4.2"/><rect x="2096.30" y="2442.00" width="49.88" height="585.50" fill="#FF1A1A" stroke="#0a0a0a" stroke-width="4.2"/><rect x="2146.18" y="2914.60" width="49.88" height="112.90" fill="#FF1A1A" stroke="#0a0a0a" stroke-width="4.2"/><rect x="2196.06" y="2831.20" width="49.88" height="196.30" fill="#FF1A1A" stroke="#0a0a0a" stroke-width="4.2"/><rect x="2245.94" y="2914.60" width="49.88" height="112.90" fill="#FF1A1A" stroke="#0a0a0a" stroke-width="4.2"/><rect x="2295.82" y="2914.60" width="49.88" height="112.90" fill="#FF1A1A" stroke="#0a0a0a" stroke-width="4.2"/><rect x="2345.70" y="2970.20" width="49.88" height="57.30" fill="#FF1A1A" stroke="#0a0a0a" stroke-width="4.2"/><rect x="2395.58" y="2998.00" width="49.88" height="29.50" fill="#FF1A1A" stroke="#0a0a0a" stroke-width="4.2"/><clipPath id="clipf"><rect x="1349.3" y="2194.0" width="1123.5000000000002" height="833.5"/></clipPath><polyline points="1394.3,3023.1 1398.9,3022.9 1403.5,3022.6 1408.1,3022.4 1412.7,3022.1 1417.3,3021.8 1421.9,3021.5 1426.5,3021.2 1431.1,3020.8 1435.7,3020.5 1440.3,3020.1 1444.9,3019.6 1449.5,3019.2 1454.1,3018.7 1458.7,3018.2 1463.3,3017.7 1467.9,3017.1 1472.5,3016.5 1477.1,3015.8 1481.7,3015.1 1486.3,3014.4 1490.9,3013.6 1495.5,3012.8 1500.1,3011.9 1504.7,3011.0 1509.3,3010.0 1513.9,3009.0 1518.5,3007.9 1523.1,3006.8 1527.7,3005.6 1532.3,3004.3 1536.9,3003.0 1541.5,3001.6 1546.1,3000.1 1550.7,2998.6 1555.3,2996.9 1559.9,2995.2 1564.5,2993.4 1569.1,2991.5 1573.7,2989.6 1578.3,2987.5 1582.9,2985.4 1587.5,2983.1 1592.1,2980.8 1596.7,2978.3 1601.3,2975.8 1605.9,2973.1 1610.5,2970.3 1615.1,2967.4 1619.7,2964.4 1624.3,2961.3 1628.9,2958.0 1633.5,2954.7 1638.1,2951.2 1642.7,2947.5 1647.3,2943.8 1651.9,2939.9 1656.5,2935.8 1661.1,2931.7 1665.7,2927.4 1670.3,2922.9 1674.9,2918.3 1679.5,2913.6 1684.1,2908.7 1688.7,2903.7 1693.3,2898.6 1697.9,2893.3 1702.5,2887.8 1707.1,2882.2 1711.7,2876.5 1716.3,2870.6 1720.8,2864.6 1725.4,2858.4 1730.0,2852.1 1734.6,2845.7 1739.2,2839.1 1743.8,2832.4 1748.4,2825.6 1753.0,2818.6 1757.6,2811.5 1762.2,2804.3 1766.8,2797.0 1771.4,2789.6 1776.0,2782.1 1780.6,2774.4 1785.2,2766.7 1789.8,2758.9 1794.4,2751.0 1799.0,2743.0 1803.6,2734.9 1808.2,2726.8 1812.8,2718.6 1817.4,2710.4 1822.0,2702.2 1826.6,2693.9 1831.2,2685.6 1835.8,2677.2 1840.4,2668.9 1845.0,2660.6 1849.6,2652.3 1854.2,2644.0 1858.8,2635.7 1863.4,2627.5 1868.0,2619.3 1872.6,2611.2 1877.2,2603.2 1881.8,2595.2 1886.4,2587.4 1891.0,2579.6 1895.6,2572.0 1900.2,2564.5 1904.8,2557.1 1909.4,2549.9 1914.0,2542.8 1918.6,2535.9 1923.2,2529.2 1927.8,2522.6 1932.4,2516.3 1937.0,2510.1 1941.6,2504.2 1946.2,2498.5 1950.8,2493.1 1955.4,2487.8 1960.0,2482.9 1964.6,2478.1 1969.2,2473.7 1973.8,2469.5 1978.4,2465.6 1983.0,2462.0 1987.6,2458.7 1992.2,2455.7 1996.8,2453.0 2001.4,2450.5 2006.0,2448.4 2010.6,2446.7 2015.2,2445.2 2019.8,2444.0 2024.4,2443.2 2029.0,2442.7 2033.6,2442.5 2038.2,2442.6 2042.8,2443.1 2047.4,2443.9 2052.0,2445.0 2056.6,2446.4 2061.1,2448.2 2065.7,2450.2 2070.3,2452.6 2074.9,2455.3 2079.5,2458.2 2084.1,2461.5 2088.7,2465.1 2093.3,2468.9 2097.9,2473.1 2102.5,2477.5 2107.1,2482.1 2111.7,2487.1 2116.3,2492.3 2120.9,2497.7 2125.5,2503.4 2130.1,2509.2 2134.7,2515.3 2139.3,2521.7 2143.9,2528.2 2148.5,2534.9 2153.1,2541.8 2157.7,2548.8 2162.3,2556.0 2166.9,2563.4 2171.5,2570.8 2176.1,2578.5 2180.7,2586.2 2185.3,2594.0 2189.9,2602.0 2194.5,2610.0 2199.1,2618.1 2203.7,2626.3 2208.3,2634.5 2212.9,2642.7 2217.5,2651.0 2222.1,2659.3 2226.7,2667.7 2231.3,2676.0 2235.9,2684.3 2240.5,2692.6 2245.1,2700.9 2249.7,2709.2 2254.3,2717.4 2258.9,2725.6 2263.5,2733.7 2268.1,2741.8 2272.7,2749.8 2277.3,2757.7 2281.9,2765.5 2286.5,2773.3 2291.1,2780.9 2295.7,2788.5 2300.3,2795.9 2304.9,2803.3 2309.5,2810.5 2314.1,2817.6 2318.7,2824.6 2323.3,2831.4 2327.9,2838.1 2332.5,2844.7 2337.1,2851.2 2341.7,2857.5 2346.3,2863.7 2350.9,2869.7 2355.5,2875.6 2360.1,2881.4 2364.7,2887.0 2369.3,2892.5 2373.9,2897.8 2378.5,2903.0 2383.1,2908.0 2387.7,2912.9 2392.3,2917.6 2396.8,2922.2 2401.4,2926.7 2406.0,2931.0 2410.6,2935.2 2415.2,2939.3 2419.8,2943.2 2424.4,2947.0 2429.0,2950.6 2433.6,2954.1 2438.2,2957.5 2442.8,2960.8 2447.4,2964.0 2452.0,2967.0 2456.6,2969.9 2461.2,2972.7 2465.8,2975.4 2470.4,2977.9 2475.0,2980.4 2479.6,2982.8 2484.2,2985.0 2488.8,2987.2 2493.4,2989.3 2498.0,2991.3" fill="none" stroke="#A80D0D" stroke-width="5.6" stroke-linejoin="round" clip-path="url(#clipf)"/><rect x="1345.90" y="3027.50" width="7" height="12.2" fill="#000"/><rect x="1471.25" y="3027.50" width="6" height="6.4" fill="#000"/><rect x="1595.60" y="3027.50" width="7" height="12.2" fill="#000"/><rect x="1720.95" y="3027.50" width="6" height="6.4" fill="#000"/><rect x="1845.30" y="3027.50" width="7" height="12.2" fill="#000"/><rect x="1970.65" y="3027.50" width="6" height="6.4" fill="#000"/><rect x="2095.00" y="3027.50" width="7" height="12.2" fill="#000"/><rect x="2220.35" y="3027.50" width="6" height="6.4" fill="#000"/><rect x="2344.70" y="3027.50" width="7" height="12.2" fill="#000"/><rect x="1349.3" y="2194.0" width="1123.5000000000002" height="833.5" fill="none" stroke="#000" stroke-width="7"/><text transform="translate(1366.22,2292.79) scale(0.9900,0.9574)" font-size="100" font-family="'Liberation Sans', Arial, sans-serif" font-weight="bold" fill="#000" >f)</text><text transform="translate(1912.28,2293.60) scale(0.9717,1.0190)" font-size="100" font-family="'Liberation Sans', Arial, sans-serif" font-weight="bold" fill="#FF0000" stroke="#000" stroke-width="4.02" stroke-linejoin="round">5-NBC-TiO</text><text transform="translate(2399.89,2317.00) scale(0.6310,0.6690)" font-size="100" font-family="'Liberation Sans', Arial, sans-serif" font-weight="bold" fill="#FF0000" stroke="#000" stroke-width="6.15" stroke-linejoin="round">2</text><text transform="translate(1424.43,2473.60) scale(0.7140,0.7215)" font-size="100" font-family="'Liberation Sans', Arial, sans-serif" font-weight="bold">(27.4 ± 7.8) nm</text><text transform="translate(1314.30,2786.56) rotate(-90) scale(0.6950,0.7362)" font-size="100" font-family="'Liberation Sans', Arial, sans-serif" font-weight="bold">Frequency</text><text transform="translate(1329.65,3101.80) scale(0.7000,0.7143)" font-size="100" font-family="'Liberation Sans', Arial, sans-serif" font-weight="bold">0</text><text transform="translate(1559.05,3101.80) scale(0.7000,0.7143)" font-size="100" font-family="'Liberation Sans', Arial, sans-serif" font-weight="bold">10</text><text transform="translate(1809.80,3101.80) scale(0.7000,0.7143)" font-size="100" font-family="'Liberation Sans', Arial, sans-serif" font-weight="bold">20</text><text transform="translate(2059.85,3101.80) scale(0.7000,0.7143)" font-size="100" font-family="'Liberation Sans', Arial, sans-serif" font-weight="bold">30</text><text transform="translate(2309.55,3101.80) scale(0.7000,0.7143)" font-size="100" font-family="'Liberation Sans', Arial, sans-serif" font-weight="bold">40</text><text transform="translate(1675.21,3186.10) scale(0.6992,0.7166)" font-size="100" font-family="'Liberation Sans', Arial, sans-serif" font-weight="bold">Diameter (nm)</text></g></svg>
</body></html>
